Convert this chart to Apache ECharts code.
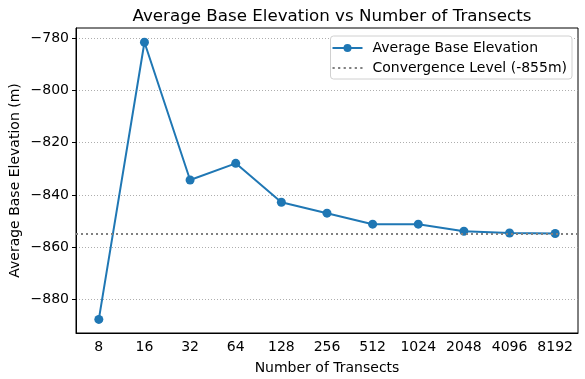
<!DOCTYPE html>
<html><head><meta charset="utf-8">
<script src="https://cdn.jsdelivr.net/npm/echarts@6/dist/echarts.min.js"></script>
<style>html,body{margin:0;padding:0;background:#fff}#c{width:585px;height:379px}</style>
</head><body><div id="c"></div>
<script>
const categories = ['8','16','32','64','128','256','512','1024','2048','4096','8192'];
const avgElevation = [-887.7,-781.5,-834.3,-827.9,-842.8,-847.0,-851.2,-851.2,-853.9,-854.6,-854.8];
const convergenceLevel = -855;
const yTicks = [-880,-860,-840,-820,-800,-780];
const yMin = -892.9, yMax = -776.05;

const font = 'DejaVu Sans';
const dotIcon = 'path://M0,0h2.2v2h-2.2z M5.5,0h2.2v2h-2.2z M11,0h2.2v2h-2.2z M16.5,0h2.2v2h-2.2z M22,0h2.2v2h-2.2z M27.5,0h2.2v2h-2.2z';
const chart = echarts.init(document.getElementById('c'), null, {renderer:'canvas'});
chart.setOption({
  animation:false,
  title:{text:'Average Base Elevation vs Number of Transects',left:327,textAlign:'center',top:3,
    textStyle:{fontFamily:font,fontSize:16.7,fontWeight:'normal',color:'#000'}},
  grid:{left:76,right:7,top:28,bottom:46,outerBoundsMode:'none',containLabel:false,show:true,borderColor:'#000',borderWidth:1,backgroundColor:'transparent'},
  legend:{right:13,top:36,orient:'vertical',itemWidth:30,itemHeight:10,itemGap:6,symbolKeepAspect:true,
    backgroundColor:'#fff',borderColor:'#d0d0d0',borderWidth:1,borderRadius:3,padding:[5,5,4,1],
    textStyle:{fontFamily:font,fontSize:14,color:'#000',padding:[0,0,0,5]},
    data:[{name:'Average Base Elevation'},{name:'Convergence Level (-855m)',icon:dotIcon,itemStyle:{color:'#808080'}}]},
  xAxis:{type:'category',data:categories,boundaryGap:true,name:'Number of Transects',nameLocation:'middle',nameGap:28,nameMoveOverlap:false,
    nameTextStyle:{fontFamily:font,fontSize:14,color:'#000'},
    axisLine:{lineStyle:{color:'#000'}},axisTick:{alignWithLabel:true,length:4,inside:false,lineStyle:{color:'#000'}},
    axisLabel:{fontFamily:font,fontSize:14,color:'#000',margin:7,interval:0},splitLine:{show:false}},
  yAxis:{type:'value',min:yMin,max:yMax,name:'Average Base Elevation (m)',nameLocation:'middle',nameGap:54,nameMoveOverlap:false,
    nameTextStyle:{fontFamily:font,fontSize:14,color:'#000'},
    axisLine:{show:true,lineStyle:{color:'#000'}},
    axisTick:{show:true,length:4,customValues:yTicks,lineStyle:{color:'#000'}},
    axisLabel:{fontFamily:font,fontSize:14,color:'#000',margin:7,customValues:yTicks,
      formatter:v=>String(v).replace('-','\u2212')},
    splitLine:{show:true,lineStyle:{color:'#999',type:[1,2],width:0.8}}},
  series:[
    {name:'Average Base Elevation',type:'line',data:avgElevation,symbol:'circle',symbolSize:9,
      itemStyle:{color:'#1f77b4'},lineStyle:{color:'#1f77b4',width:2},z:3},
    {name:'Convergence Level (-855m)',type:'line',data:categories.map(()=>null),symbol:'none',showSymbol:false,
      itemStyle:{color:'#808080'},lineStyle:{color:'#808080',width:2,type:[2,3]},
      markLine:{silent:true,symbol:'none',label:{show:false},
        lineStyle:{color:'#808080',width:2,type:[2,3]},data:[{yAxis:convergenceLevel}]},z:2}
  ]
});
</script></body></html>
